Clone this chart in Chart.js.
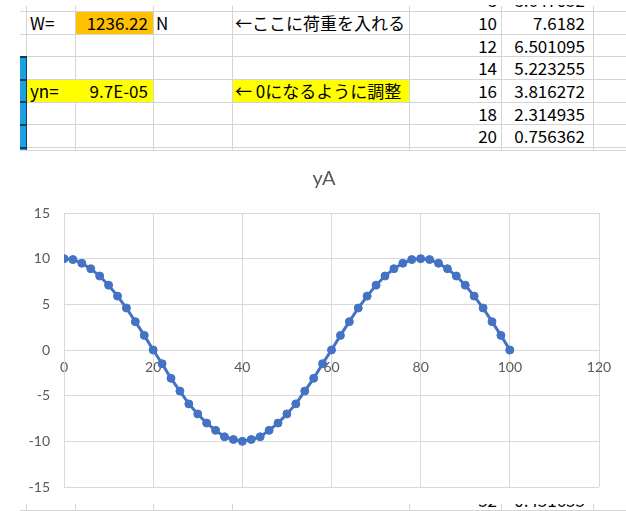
<!DOCTYPE html>
<html><head><meta charset="utf-8">
<script src="https://cdn.jsdelivr.net/npm/chart.js@4.4.1/dist/chart.umd.min.js"></script>
<style>
html,body{margin:0;padding:0;background:#fff;width:626px;height:511px;overflow:hidden;position:relative;font-family:"Noto Sans CJK JP",sans-serif;}
.hl{position:absolute;height:1px;background:#d4d4d4;}
.vl{position:absolute;width:1px;background:#d4d4d4;}
.fill{position:absolute;}
.cell{position:absolute;height:23px;line-height:23px;font-size:17px;color:#000;white-space:nowrap;box-sizing:border-box;}
#chartBox{position:absolute;left:0;top:151px;width:626px;height:353px;background:#fff;}
#c{position:absolute;left:0;top:1px;}
#title{position:absolute;left:224px;width:200px;top:16px;height:20px;line-height:20px;text-align:center;font-family:Lato,sans-serif;font-size:20px;color:#595959;}
</style>
</head><body>
<div id="sheet"></div>
<div id="chartBox"><canvas id="c" width="626" height="351"></canvas><div id="title"></div></div>
<script>
// ---- chart data ----
const xValues = [0,2,4,6,8,10,12,14,16,18,20,22,24,26,28,30,32,34,36,38,40,42,44,46,48,50,52,54,56,58,60,62,64,66,68,70,72,74,76,78,80,82,84,86,88,90,92,94,96,98,100];
const yA = [10,9.9,9.5,8.9,8.1,7.1,5.9,4.6,3.1,1.6,0,-1.5,-3.1,-4.5,-5.9,-7.0,-8.0,-8.8,-9.5,-9.8,-10,-9.8,-9.5,-8.8,-8.0,-7.0,-5.9,-4.5,-3.1,-1.5,0,1.6,3.1,4.6,5.9,7.1,8.1,8.9,9.5,9.9,10,9.9,9.5,8.9,8.1,7.1,5.9,4.6,3.1,1.6,0];
const xTicks = [0,20,40,60,80,100,120];
const yTicks = [-15,-10,-5,0,5,10,15];
const chartTitle = 'yA';

// ---- sheet data ----
const tableX = ['8','10','12','14','16','18','20'];
const tableY = ['8.647052','7.6182','6.501095','5.223255','3.816272','2.314935','0.756362'];
const bottomX = '52';
const bottomY = '0.451655';
const labelW = 'W=';
const valueW = '1236.22';
const unitW = 'N';
const noteW = '←ここに荷重を入れる';
const labelYn = 'yn=';
const valueYn = '9.7E-05';
const noteYn = '← 0になるように調整';

document.getElementById('title').textContent = chartTitle;

// ---- sheet drawing ----
const sheet = document.getElementById('sheet');
function add(cls, style, text){
  const d = document.createElement('div');
  d.className = cls;
  Object.assign(d.style, style);
  if (text !== undefined) d.textContent = text;
  sheet.appendChild(d);
  return d;
}
const rowTops = [-11.7, 11, 33.7, 56.3, 79, 101.7, 124.3];
const colLines = [75, 153, 232, 409, 500.5, 592.5];
[11, 33.7, 56.3, 79, 101.7, 124.3, 147].forEach(y => add('hl', {left:'20px', width:'606px', top:Math.round(y)+'px'}));
add('hl', {left:'20px', width:'606px', top:'510px'});
colLines.forEach(x => {
  add('vl', {left:Math.round(x)+'px', top:'6px', height:'145px'});
  add('vl', {left:Math.round(x)+'px', top:'504px', height:'7px'});
});
add('vl', {left:'26px', top:'6px', height:'51px'});
add('vl', {left:'26px', top:'504px', height:'7px'});
add('fill', {left:'76px', top:'12px', width:'77px', height:'22px', background:'#FFC000'});
add('fill', {left:'27px', top:'80px', width:'126px', height:'22px', background:'#FFFF00'});
add('fill', {left:'233px', top:'80px', width:'176px', height:'22px', background:'#FFFF00'});
add('fill', {left:'20px', top:'56px', width:'7px', height:'94px', background:'#1BA1E2'});
[56, 79, 101, 124, 147].forEach(y => add('fill', {left:'20px', top:y+'px', width:'7px', height:'2px', background:'#143d5e'}));
add('fill', {left:'26px', top:'56px', width:'1px', height:'94px', background:'#143d5e'});

function cellText(text, left, width, rowTop, align, pad){
  const st = {left:left+'px', width:width+'px', top:rowTop+'px', textAlign:align};
  if (align === 'right') st.paddingRight = pad+'px'; else st.paddingLeft = pad+'px';
  return add('cell', st, text);
}
cellText(labelW, 27, 48, 11, 'left', 3);
cellText(valueW, 75, 78, 11, 'right', 5);
cellText(unitW, 153, 79, 11, 'left', 3);
cellText(noteW, 232, 177, 11, 'left', 3);
cellText(labelYn, 27, 48, 79, 'left', 3);
cellText(valueYn, 75, 78, 79, 'right', 5);
cellText(noteYn, 232, 177, 79, 'left', 3);
tableX.forEach((v,i) => {
  cellText(v, 409, 92, rowTops[i], 'right', 4);
  cellText(tableY[i], 500, 93, rowTops[i], 'right', 8);
});
cellText(bottomX, 409, 92, 487.5, 'right', 4);
cellText(bottomY, 500, 93, 487.5, 'right', 8);
add('fill', {left:'0', top:'0', width:'626px', height:'5px', background:'#fff'});
add('fill', {left:'20px', top:'150px', width:'606px', height:'1px', background:'#d9d9d9'});
add('fill', {left:'20px', top:'503px', width:'606px', height:'1px', background:'#d9d9d9'});

// ---- chart ----
const grey = '#595959';
const gridC = '#d9d9d9';
new Chart(document.getElementById('c'), {
  type: 'scatter',
  data: {
    datasets: [{
      label: chartTitle,
      data: xValues.map((x,i) => ({x, y: yA[i]})),
      showLine: true,
      borderColor: '#4472C4',
      backgroundColor: '#4472C4',
      borderWidth: 3,
      pointRadius: 4,
      pointBorderWidth: 1,
      pointBackgroundColor: '#4472C4',
      pointBorderColor: '#4472C4',
      tension: 0
    }]
  },
  options: {
    responsive: false,
    animation: false,
    devicePixelRatio: 1,
    layout: { padding: { left: 0, right: 27, top: 61, bottom: 16 } },
    plugins: {
      legend: { display: false },
      tooltip: { enabled: false },
      title: { display: false }
    },
    scales: {
      x: {
        type: 'linear',
        position: { y: 0 },
        min: xTicks[0], max: xTicks[xTicks.length-1],
        afterBuildTicks: s => { s.ticks = xTicks.map(v => ({value: v})); },
        afterFit: s => { s.height = 0; s.paddingTop = 0; s.paddingBottom = 0; },
        grid: { color: gridC, lineWidth: 1, drawTicks: false },
        border: { color: gridC, width: 1 },
        ticks: { color: grey, font: { family: 'Lato', size: 14 }, padding: 9, maxRotation: 0 }
      },
      y: {
        type: 'linear',
        min: yTicks[0], max: yTicks[yTicks.length-1],
        afterBuildTicks: s => { s.ticks = yTicks.map(v => ({value: v})); },
        afterFit: s => { s.width = 64; s.paddingTop = 0; s.paddingBottom = 0; },
        grid: { color: gridC, lineWidth: 1, drawTicks: false },
        border: { color: gridC, width: 1 },
        ticks: { color: grey, font: { family: 'Lato', size: 14 }, padding: 14 }
      }
    }
  }
});
</script>
</body></html>
